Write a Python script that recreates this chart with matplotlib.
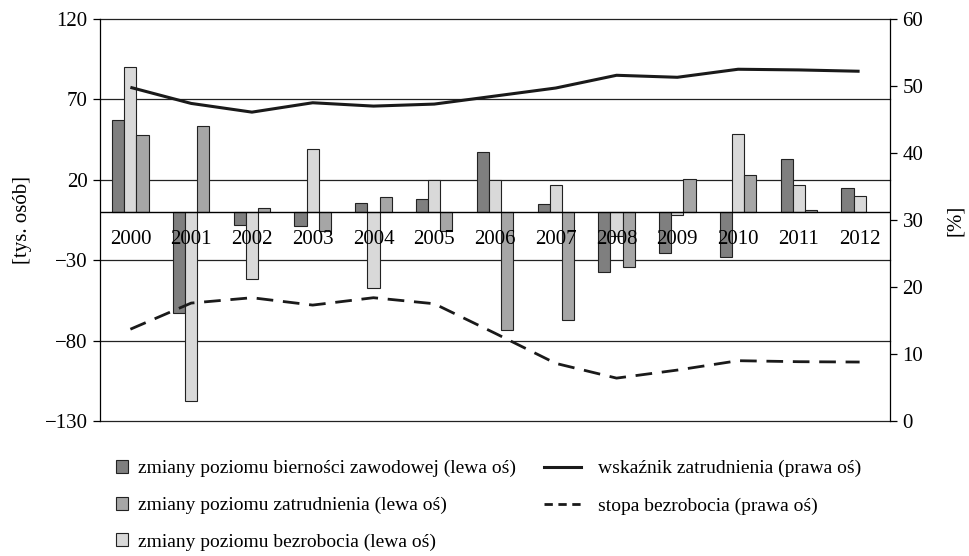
import numpy as np
import matplotlib
matplotlib.use('Agg')
import matplotlib.pyplot as plt
from matplotlib.patches import Patch
from matplotlib.lines import Line2D

plt.rcParams['font.family'] = ['Liberation Serif', 'DejaVu Serif']

# Data
years = ['2000', '2001', '2002', '2003', '2004', '2005', '2006',
         '2007', '2008', '2009', '2010', '2011', '2012']
biernosc = [57, -63, -8, -8.5, 5.5, 8, 37.5, 5, -37.5, -25.5, -28, 33, 15]
bezrobocie = [90, -117.5, -41.5, 39, -47, 20, 20, 16.5, -15, -2, 48.5, 17, 10]
zatrudnienie = [48, 53.5, 2.5, -12, 9, -12, -73.5, -67.5, -34, 20.5, 23, 1.5, np.nan]
wskaznik_zatr = [49.8, 47.4, 46.1, 47.5, 47.0, 47.3, 48.5, 49.7, 51.6, 51.3, 52.5, 52.4, 52.2]
stopa_bezr = [13.7, 17.6, 18.4, 17.3, 18.4, 17.5, 13.1, 8.6, 6.4, 7.6, 9.0, 8.85, 8.8]

c_dark, c_med, c_light = '#7f7f7f', '#a6a6a6', '#d9d9d9'

fig = plt.figure(figsize=(9.7, 5.56), dpi=100)
ax = fig.add_axes([100/970, 1 - 421/556, 790/970, 402/556])

x = np.arange(len(years))
w = 0.2
ax.bar(x - w, biernosc, w, color=c_dark, edgecolor='#222222', linewidth=0.8, zorder=2)
ax.bar(x, bezrobocie, w, color=c_light, edgecolor='#222222', linewidth=0.8, zorder=2)
ax.bar(x + w, zatrudnienie, w, color=c_med, edgecolor='#222222', linewidth=0.8, zorder=2)

ax.set_xlim(-0.5, len(years) - 0.5)
ax.set_ylim(-130, 120)
yt = np.arange(-130, 121, 50)
ax.set_yticks(yt)
ax.set_yticklabels([str(v).replace('-', '\u2212') for v in yt])
for v in yt:
    ax.axhline(v, color='#222222', linewidth=0.9, zorder=1, clip_on=False)
ax.axhline(0, color='black', linewidth=1.0, zorder=2.5)
ax.set_xticks([])
for s in ['top', 'bottom', 'right']:
    ax.spines[s].set_visible(False)
ax.spines['left'].set_linewidth(0.9)
ax.tick_params(axis='y', direction='out', length=5, width=0.9, labelsize=15, pad=4)
ax.set_ylabel('[tys. osób]', fontsize=15, labelpad=9)

for i, yr in enumerate(years):
    ax.text(i, -17, yr, ha='center', va='center', fontsize=15, zorder=4)

ax2 = ax.twinx()
ax2.set_ylim(0, 60)
ax2.set_yticks(np.arange(0, 61, 10))
ax2.plot(x, wskaznik_zatr, color='#1a1a1a', linewidth=2.2, solid_capstyle='butt')
ax2.plot(x, stopa_bezr, color='#1a1a1a', linewidth=2.0, linestyle=(0, (6, 3.5)))
for s in ['top', 'bottom', 'left']:
    ax2.spines[s].set_visible(False)
ax2.spines['right'].set_linewidth(0.9)
ax2.tick_params(axis='y', direction='out', length=5, width=0.9, labelsize=15, pad=4)
ax2.set_ylabel('[%]', fontsize=15, rotation=90, labelpad=16)

bar_handles = [Patch(facecolor=c_dark, edgecolor='#222222', linewidth=0.8),
               Patch(facecolor=c_med, edgecolor='#222222', linewidth=0.8),
               Patch(facecolor=c_light, edgecolor='#222222', linewidth=0.8)]
bar_labels = ['zmiany poziomu bierności zawodowej (lewa oś)',
              'zmiany poziomu zatrudnienia (lewa oś)',
              'zmiany poziomu bezrobocia (lewa oś)']
leg1 = fig.legend(bar_handles, bar_labels, loc='upper left',
                  bbox_to_anchor=(108/970, 1 - 452/556), frameon=False,
                  fontsize=14, handlelength=0.65, handleheight=0.65,
                  handletextpad=0.5, labelspacing=1.0, borderaxespad=0)

line_handles = [Line2D([], [], color='#1a1a1a', linewidth=2.2),
                Line2D([], [], color='#1a1a1a', linewidth=2.0, linestyle=(0, (3, 2)))]
line_labels = ['wskaźnik zatrudnienia (prawa oś)', 'stopa bezrobocia (prawa oś)']
leg2 = fig.legend(line_handles, line_labels, loc='upper left',
                  bbox_to_anchor=(536/970, 1 - 452/556), frameon=False,
                  fontsize=14, handlelength=1.9, handletextpad=0.9,
                  labelspacing=1.0, borderaxespad=0)

fig.savefig('out.png', dpi=100)
